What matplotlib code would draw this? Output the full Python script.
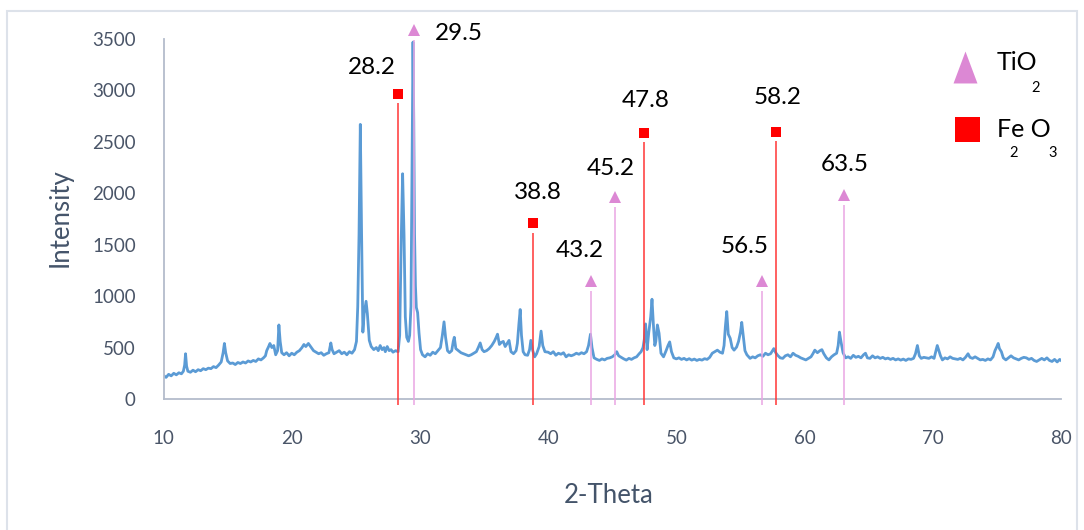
import matplotlib
matplotlib.use("Agg")
import matplotlib.pyplot as plt
from matplotlib.patches import Rectangle

# XRD pattern: (2-theta, intensity)
xrd_points = [
    (10.0, 230), (10.2, 210), (10.4, 240), (10.6, 225), (10.8, 250), (11.0, 235),
    (11.2, 255), (11.4, 245), (11.55, 270), (11.65, 330), (11.72, 440), (11.8, 320),
    (11.9, 270), (12.1, 260), (12.3, 280), (12.5, 265), (12.7, 285), (12.9, 275),
    (13.1, 295), (13.3, 285), (13.5, 300), (13.7, 295), (13.9, 315), (14.1, 305),
    (14.3, 330), (14.5, 360), (14.65, 450), (14.75, 540), (14.85, 450), (15.0, 370),
    (15.2, 345), (15.4, 350), (15.6, 335), (15.8, 355), (16.0, 345), (16.2, 360),
    (16.4, 350), (16.6, 370), (16.8, 360), (17.0, 375), (17.2, 365), (17.4, 390),
    (17.6, 380), (17.8, 400), (17.95, 420), (18.05, 470), (18.2, 510), (18.3, 540),
    (18.45, 500), (18.6, 520), (18.75, 430), (18.9, 470), (19.0, 720), (19.1, 560),
    (19.22, 450), (19.4, 430), (19.6, 450), (19.8, 420), (20.0, 445), (20.2, 430),
    (20.4, 455), (20.6, 470), (20.8, 500), (20.95, 530), (21.1, 510), (21.3, 540),
    (21.5, 505), (21.7, 470), (21.9, 455), (22.1, 440), (22.3, 450), (22.5, 425),
    (22.7, 440), (22.9, 450), (23.05, 545), (23.15, 480), (23.3, 440), (23.5, 455),
    (23.7, 470), (23.9, 440), (24.1, 455), (24.3, 430), (24.5, 460), (24.7, 445),
    (24.9, 480), (25.05, 560), (25.15, 900), (25.25, 1600), (25.35, 2670), (25.45, 1600),
    (25.55, 650), (25.65, 830), (25.8, 950), (25.9, 830), (26.05, 570), (26.2, 510),
    (26.4, 480), (26.6, 500), (26.75, 470), (26.9, 520), (27.05, 480), (27.2, 500),
    (27.3, 460), (27.45, 510), (27.6, 470), (27.75, 480), (27.9, 455), (28.1, 470),
    (28.3, 460), (28.42, 620), (28.55, 1600), (28.65, 2190), (28.76, 1600), (28.86, 800),
    (28.97, 600), (29.1, 560), (29.2, 620), (29.3, 900), (29.36, 1900), (29.42, 3000),
    (29.46, 3470), (29.52, 2700), (29.58, 1600), (29.65, 1100), (29.72, 890), (29.82, 840),
    (29.93, 640), (30.05, 480), (30.2, 430), (30.4, 410), (30.6, 440), (30.8, 425),
    (31.0, 455), (31.2, 440), (31.4, 470), (31.6, 500), (31.75, 620), (31.88, 750),
    (32.0, 600), (32.15, 470), (32.3, 450), (32.48, 470), (32.6, 560), (32.68, 600),
    (32.8, 490), (33.0, 470), (33.2, 450), (33.4, 440), (33.6, 430), (33.8, 420),
    (34.0, 430), (34.2, 445), (34.4, 460), (34.55, 500), (34.7, 545), (34.85, 480),
    (35.0, 460), (35.2, 470), (35.4, 490), (35.6, 520), (35.8, 560), (35.95, 600),
    (36.05, 630), (36.2, 530), (36.35, 550), (36.5, 560), (36.65, 510), (36.8, 540),
    (36.95, 570), (37.1, 460), (37.3, 440), (37.5, 470), (37.6, 540), (37.72, 730),
    (37.82, 870), (37.92, 620), (38.05, 460), (38.2, 430), (38.4, 425), (38.55, 480),
    (38.65, 570), (38.8, 470), (38.95, 410), (39.1, 440), (39.3, 510), (39.45, 660),
    (39.58, 520), (39.75, 460), (40.0, 455), (40.2, 440), (40.4, 460), (40.6, 425),
    (40.8, 445), (41.0, 435), (41.2, 450), (41.4, 410), (41.6, 430), (41.8, 420),
    (42.0, 430), (42.2, 445), (42.4, 435), (42.6, 450), (42.8, 440), (43.0, 460),
    (43.15, 520), (43.3, 630), (43.42, 500), (43.58, 400), (43.8, 385), (44.0, 375),
    (44.2, 390), (44.4, 380), (44.6, 395), (44.8, 400), (45.0, 410), (45.2, 430),
    (45.35, 460), (45.5, 420), (45.7, 405), (45.9, 390), (46.1, 378), (46.3, 395),
    (46.5, 385), (46.7, 400), (46.9, 410), (47.1, 440), (47.25, 460), (47.4, 500),
    (47.5, 580), (47.6, 730), (47.72, 480), (47.85, 650), (48.0, 800), (48.1, 970),
    (48.22, 700), (48.32, 520), (48.4, 560), (48.52, 720), (48.65, 640), (48.8, 445),
    (49.0, 410), (49.2, 470), (49.35, 520), (49.48, 555), (49.62, 460), (49.8, 400),
    (50.0, 390), (50.2, 400), (50.4, 385), (50.6, 395), (50.8, 380), (51.0, 392),
    (51.2, 378), (51.4, 388), (51.6, 375), (51.8, 385), (52.0, 378), (52.2, 392),
    (52.4, 385), (52.6, 405), (52.8, 445), (53.0, 460), (53.2, 475), (53.4, 455),
    (53.6, 445), (53.72, 520), (53.82, 700), (53.93, 850), (54.05, 630), (54.2, 590),
    (54.35, 500), (54.5, 475), (54.7, 505), (54.85, 560), (55.0, 650), (55.1, 745),
    (55.22, 610), (55.35, 470), (55.5, 430), (55.75, 395), (55.95, 410), (56.15, 400),
    (56.35, 420), (56.55, 430), (56.75, 415), (56.95, 445), (57.15, 430), (57.35, 440),
    (57.5, 470), (57.6, 490), (57.75, 450), (57.9, 425), (58.1, 400), (58.3, 395),
    (58.5, 420), (58.7, 430), (58.9, 410), (59.1, 445), (59.3, 425), (59.5, 415),
    (59.7, 400), (59.9, 390), (60.1, 380), (60.3, 395), (60.5, 410), (60.65, 440),
    (60.8, 475), (61.0, 450), (61.2, 470), (61.35, 480), (61.5, 440), (61.7, 400),
    (61.9, 380), (62.1, 410), (62.3, 430), (62.5, 445), (62.62, 520), (62.72, 650),
    (62.85, 550), (63.0, 450), (63.2, 400), (63.4, 410), (63.6, 395), (63.8, 425),
    (64.0, 405), (64.2, 415), (64.4, 400), (64.6, 430), (64.75, 445), (64.9, 400),
    (65.1, 395), (65.3, 420), (65.5, 400), (65.7, 410), (65.9, 395), (66.1, 405),
    (66.3, 390), (66.5, 398), (66.7, 385), (66.9, 395), (67.1, 380), (67.3, 390),
    (67.5, 378), (67.7, 388), (67.9, 375), (68.1, 390), (68.3, 385), (68.5, 395),
    (68.65, 440), (68.8, 520), (68.95, 420), (69.1, 395), (69.3, 405), (69.5, 400),
    (69.7, 395), (69.9, 410), (70.1, 395), (70.25, 470), (70.35, 520), (70.45, 480),
    (70.6, 420), (70.75, 380), (70.95, 400), (71.15, 390), (71.35, 410), (71.55, 395),
    (71.75, 390), (71.95, 385), (72.15, 395), (72.35, 380), (72.55, 405), (72.75, 440),
    (72.9, 405), (73.1, 395), (73.3, 410), (73.5, 395), (73.7, 380), (73.9, 385),
    (74.1, 375), (74.3, 390), (74.5, 380), (74.7, 410), (74.85, 470), (75.0, 510),
    (75.1, 540), (75.2, 490), (75.35, 460), (75.5, 400), (75.7, 380), (75.9, 400),
    (76.1, 420), (76.3, 400), (76.5, 390), (76.7, 380), (76.9, 395), (77.1, 405),
    (77.3, 400), (77.5, 385), (77.7, 395), (77.9, 375), (78.1, 365), (78.3, 380),
    (78.5, 395), (78.7, 380), (78.9, 400), (79.1, 375), (79.3, 365), (79.5, 385),
    (79.7, 360), (79.9, 385), (80.0, 375),
]
two_theta = [p[0] for p in xrd_points]
intensity = [p[1] for p in xrd_points]

# reference peaks
ref_labels = ["28.2", "29.5", "38.8", "43.2", "45.2", "47.8", "56.5", "58.2", "63.5"]
ref_pos = [28.3, 29.5, 38.85, 43.35, 45.2, 47.45, 56.65, 57.8, 63.1]
ref_height = [2970, 3590, 1710, 1145, 1960, 2590, 1145, 2600, 1980]
ref_phase = ["Fe2O3", "TiO2", "Fe2O3", "TiO2", "TiO2", "Fe2O3", "TiO2", "Fe2O3", "TiO2"]

# label offsets from marker, pixels
lab_dx = [-26, 45, 4, -11, -4, 2, -17, 1, 0]
lab_dy = [26, -4, 31, 31, 29, 32, 35, 34, 31]

W, H = 1084, 530
fig = plt.figure(figsize=(W / 100, H / 100), dpi=100)
ax = fig.add_axes([163.5 / W, 1 - 399 / H, 897.5 / W, 360 / H])

font = "Lato"
tick_col = "#4a5568"
pink = "#dc88d4"
pink_line = "#eaa6e3"
red = "#ff0000"
red_line = "#ff3535"

ax.plot(two_theta, intensity, color="#5b9bd5", lw=2.0, zorder=2)

for i in range(len(ref_pos)):
    if ref_phase[i] == "TiO2":
        lc, mc, mk, ms = pink_line, pink, "^", 9
    else:
        lc, mc, mk, ms = red_line, red, "s", 7
    ax.vlines(ref_pos[i], -55, ref_height[i] - 95, color=lc, lw=1.1,
              zorder=3, clip_on=False)
    ax.plot(ref_pos[i], ref_height[i], marker=mk, ms=ms, color=mc, mew=0,
            zorder=4, clip_on=False)
    ax.annotate(ref_labels[i], (ref_pos[i], ref_height[i]),
                xytext=(lab_dx[i], lab_dy[i]), textcoords="offset pixels",
                ha="center", va="center", fontsize=17.5, family=font,
                color="black", annotation_clip=False)

ax.set_xlim(10, 80)
ax.set_ylim(0, 3500)
ax.set_xticks(range(10, 81, 10))
ax.set_yticks(range(0, 3501, 500))
ax.tick_params(length=0, labelsize=13.5, labelcolor=tick_col)
ax.tick_params(axis="x", pad=22)
ax.tick_params(axis="y", pad=20)
for lab in ax.get_xticklabels() + ax.get_yticklabels():
    lab.set_family(font)

for s in ["top", "right"]:
    ax.spines[s].set_visible(False)
for s in ["left", "bottom"]:
    ax.spines[s].set_color("#b4bccc")
    ax.spines[s].set_linewidth(1.3)

ax.set_xlabel("2-Theta", fontsize=18.5, family=font, color="#44546a", va="center")
ax.xaxis.set_label_coords(0.496, -0.269)
ax.set_ylabel("Intensity", fontsize=18.5, family=font, color="#44546a", va="center")
ax.yaxis.set_label_coords(-0.1153, 0.503)

# legend drawn by hand (subscripts sit far below like in the original)
def fx(px):
    return px / W

def fy(py):
    return 1 - py / H

tri = [(-0.75, -1), (0.75, -1), (0, 1)]
fig.lines.append(plt.Line2D([fx(965)], [fy(67)], marker=tri, ms=23, color=pink,
                            mew=0, transform=fig.transFigure))
fig.lines.append(plt.Line2D([fx(967)], [fy(129)], marker="s", ms=18, color=red,
                            mew=0, transform=fig.transFigure))
fig.text(fx(997), fy(63), "TiO", fontsize=18, family=font, va="center", ha="left")
fig.text(fx(1036), fy(88), "2", fontsize=10.5, family=font, va="center", ha="center")
fig.text(fx(997), fy(129), "Fe O", fontsize=18, family=font, va="center", ha="left")
fig.text(fx(1014), fy(153), "2", fontsize=10.5, family=font, va="center", ha="center")
fig.text(fx(1053), fy(153), "3", fontsize=10.5, family=font, va="center", ha="center")

# light frame around the chart area
fig.patches.append(Rectangle((fx(7), fy(H + 5)), fx(1077 - 7), fy(11) - fy(H + 5),
                             transform=fig.transFigure, fill=False,
                             edgecolor="#dde2ea", lw=1.5))

fig.savefig("out.png", dpi=100)
